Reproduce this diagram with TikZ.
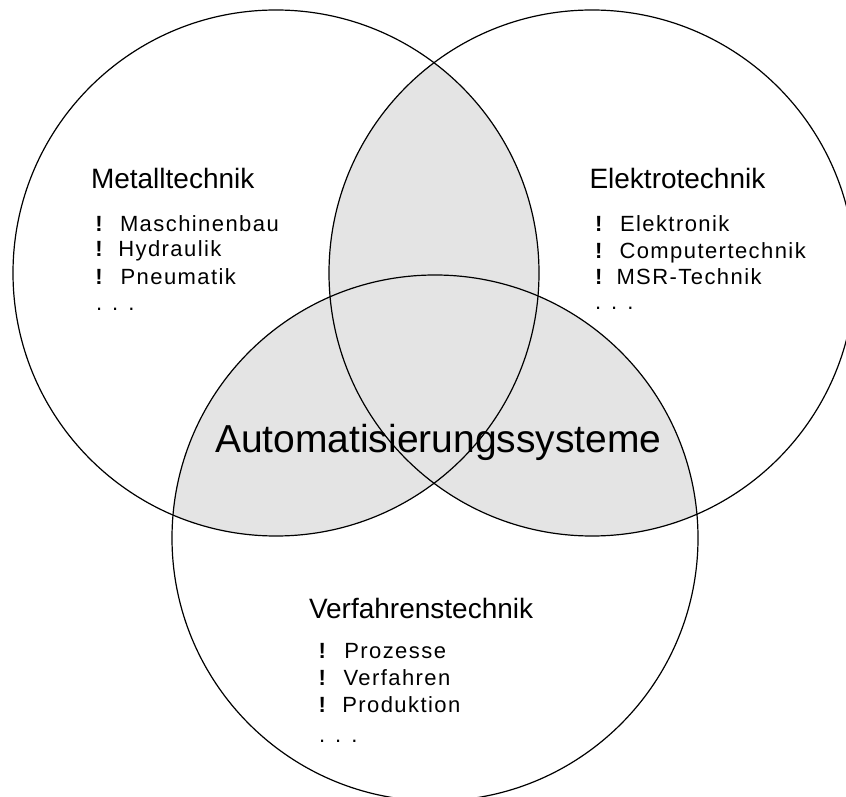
\documentclass[tikz,border=0pt]{standalone}
\usepackage{fontspec}
\setmainfont{Liberation Sans}
\newfontfamily\itemfont[LetterSpace=6.5]{Liberation Sans}
\definecolor{venngray}{HTML}{E4E4E4}
\begin{document}
\begin{tikzpicture}[x=1pt,y=1pt,
  ring/.style={circle, draw=black, line width=1.2pt, minimum size=526pt, inner sep=0pt, outer sep=0pt},
  head/.style={anchor=base west, inner sep=0pt, outer sep=0pt, font=\fontsize{28}{30}\selectfont},
  big/.style={anchor=base west, inner sep=0pt, outer sep=0pt, font=\fontsize{39}{42}\selectfont},
  itemtext/.style={anchor=base west, inner sep=0pt, outer sep=0pt, font=\itemfont\fontsize{22}{24}\selectfont},
  bang/.style={anchor=base west, inner sep=0pt, outer sep=0pt, font=\bfseries\fontsize{22}{24}\selectfont}]
\useasboundingbox (0,0) rectangle (846,796);
\clip (0,0) rectangle (846,796);
\coordinate (L) at (276,523);
\coordinate (R) at (592,523);
\coordinate (B) at (435,258);
\def\rad{263}
% shaded overlaps
\begin{scope}
  \clip (L) circle (\rad);
  \fill[venngray] (R) circle (\rad);
  \fill[venngray] (B) circle (\rad);
\end{scope}
\begin{scope}
  \clip (R) circle (\rad);
  \fill[venngray] (B) circle (\rad);
\end{scope}
% circles
\node[ring] (cL) at (L) {};
\node[ring] (cR) at (R) {};
\node[ring] (cB) at (B) {};
% left
\node[head] (hL) at (91,607) {Metalltechnik};
\node[bang] (bL1) at (95.3,564) {!};
\node[itemtext] (iL1) at (120,564) {Maschinenbau};
\node[bang] (bL2) at (95.3,539) {!};
\node[itemtext] (iL2) at (118.3,539) {Hydraulik};
\node[bang] (bL3) at (95.3,511) {!};
\node[itemtext] (iL3) at (120.6,511) {Pneumatik};
\node[itemtext] (dL) at (96,485) {. . .};
% right
\node[head] (hR) at (589.5,607) {Elektrotechnik};
\node[bang] (bR1) at (595,564) {!};
\node[itemtext] (iR1) at (620,564) {Elektronik};
\node[bang] (bR2) at (595,537) {!};
\node[itemtext] (iR2) at (619.5,537) {Computertechnik};
\node[bang] (bR3) at (595,511) {!};
\node[itemtext] (iR3) at (616.5,511) {MSR-Technik};
\node[itemtext] (dR) at (595,486) {. . .};
% bottom
\node[head] (hB) at (309,178) {Verfahrenstechnik};
\node[bang] (bB1) at (318.7,138) {!};
\node[itemtext] (iB1) at (344.3,138) {Prozesse};
\node[bang] (bB2) at (318.7,111) {!};
\node[itemtext] (iB2) at (343.5,111) {Verfahren};
\node[bang] (bB3) at (318.7,83.3) {!};
\node[itemtext] (iB3) at (342.3,83.3) {Produktion};
\node[itemtext] (dB) at (319,54) {. . .};
% centre
\node[big] (auto) at (215,343.3) {Automatisierungssysteme};
\end{tikzpicture}
\end{document}
